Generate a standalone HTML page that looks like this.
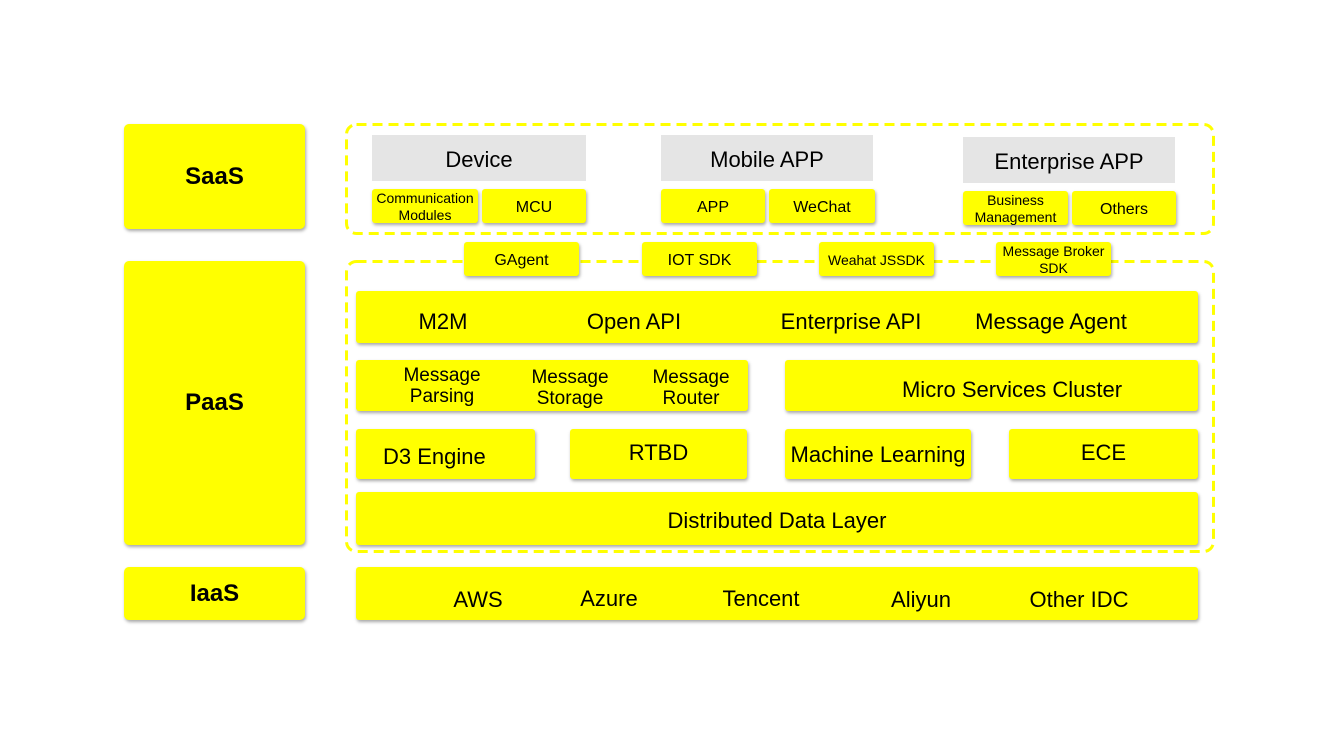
<!DOCTYPE html>
<html><head><style>
body{margin:0;width:1342px;height:744px;background:#fff;position:relative;overflow:hidden;font-family:"Liberation Sans",sans-serif;}
.b{position:absolute;background:#ffff00;box-shadow:1px 2px 3px rgba(0,0,0,0.35);border-radius:3px;display:flex;align-items:center;justify-content:center;text-align:center;color:#000;box-sizing:border-box;}
.g{position:absolute;background:#e5e5e5;display:flex;align-items:center;justify-content:center;font-size:22px;padding-top:3px;box-sizing:border-box;}
.t{position:absolute;transform:translate(-50%,-50%);text-align:center;white-space:nowrap;line-height:1.1;}
.L{font-weight:bold;font-size:24px;border-radius:5px;}
.s{font-size:16px;padding-top:3px}.xs{font-size:14px;line-height:1.2;padding-top:2px}
.big{font-size:22px}
</style></head><body>
<svg style="position:absolute;left:0;top:0" width="1342" height="744">
<rect x="346.5" y="124.5" width="867" height="109" rx="10" fill="none" stroke="#ffff00" stroke-width="3" stroke-dasharray="10,6"/>
<rect x="346.5" y="261.5" width="867" height="290" rx="10" fill="none" stroke="#ffff00" stroke-width="3" stroke-dasharray="10,6"/>
</svg>
<div class="b L" style="left:124px;top:124px;width:181px;height:105px">SaaS</div>
<div class="b L" style="left:124px;top:261px;width:181px;height:284px">PaaS</div>
<div class="b L" style="left:124px;top:567px;width:181px;height:53px">IaaS</div>

<div class="g" style="left:372px;top:135px;width:214px;height:46px">Device</div>
<div class="b xs" style="left:372px;top:189px;width:106px;height:34px">Communication<br>Modules</div>
<div class="b s" style="left:482px;top:189px;width:104px;height:34px">MCU</div>
<div class="g" style="left:661px;top:135px;width:212px;height:46px">Mobile APP</div>
<div class="b s" style="left:661px;top:189px;width:104px;height:34px">APP</div>
<div class="b s" style="left:769px;top:189px;width:106px;height:34px">WeChat</div>
<div class="g" style="left:963px;top:137px;width:212px;height:46px">Enterprise APP</div>
<div class="b xs" style="left:963px;top:191px;width:105px;height:34px">Business<br>Management</div>
<div class="b s" style="left:1072px;top:191px;width:104px;height:34px">Others</div>

<div class="b s" style="left:464px;top:242px;width:115px;height:34px">GAgent</div>
<div class="b s" style="left:642px;top:242px;width:115px;height:34px">IOT SDK</div>
<div class="b xs" style="left:819px;top:242px;width:115px;height:34px">Weahat JSSDK</div>
<div class="b xs" style="left:996px;top:242px;width:115px;height:34px">Message Broker<br>SDK</div>

<div class="b" style="left:356px;top:291px;width:842px;height:52px"></div>
<div class="t big" style="left:443px;top:322px">M2M</div>
<div class="t big" style="left:634px;top:322px">Open API</div>
<div class="t big" style="left:851px;top:322px">Enterprise API</div>
<div class="t big" style="left:1051px;top:322px">Message Agent</div>

<div class="b" style="left:356px;top:360px;width:392px;height:51px"></div>
<div class="t" style="left:442px;top:387px;font-size:19px">Message<br>Parsing</div>
<div class="t" style="left:570px;top:389px;font-size:19px">Message<br>Storage</div>
<div class="t" style="left:691px;top:389px;font-size:19px">Message<br>Router</div>
<div class="b" style="left:785px;top:360px;width:413px;height:51px"></div>
<div class="t big" style="left:1012px;top:390px">Micro Services Cluster</div>

<div class="b big" style="left:356px;top:429px;width:179px;height:50px;padding-top:5px;justify-content:flex-start;padding-left:27px">D3 Engine</div>
<div class="b big" style="left:570px;top:429px;width:177px;height:50px;padding-bottom:2px">RTBD</div>
<div class="b big" style="left:785px;top:429px;width:186px;height:50px;padding-top:2px">Machine Learning</div>
<div class="b big" style="left:1009px;top:429px;width:189px;height:50px;padding-bottom:2px">ECE</div>
<div class="b big" style="left:356px;top:492px;width:842px;height:53px;padding-top:4px">Distributed Data Layer</div>

<div class="b" style="left:356px;top:567px;width:842px;height:53px"></div>
<div class="t big" style="left:478px;top:600px">AWS</div>
<div class="t big" style="left:609px;top:599px">Azure</div>
<div class="t big" style="left:761px;top:599px">Tencent</div>
<div class="t big" style="left:921px;top:600px">Aliyun</div>
<div class="t big" style="left:1079px;top:600px">Other IDC</div>
</body></html>
